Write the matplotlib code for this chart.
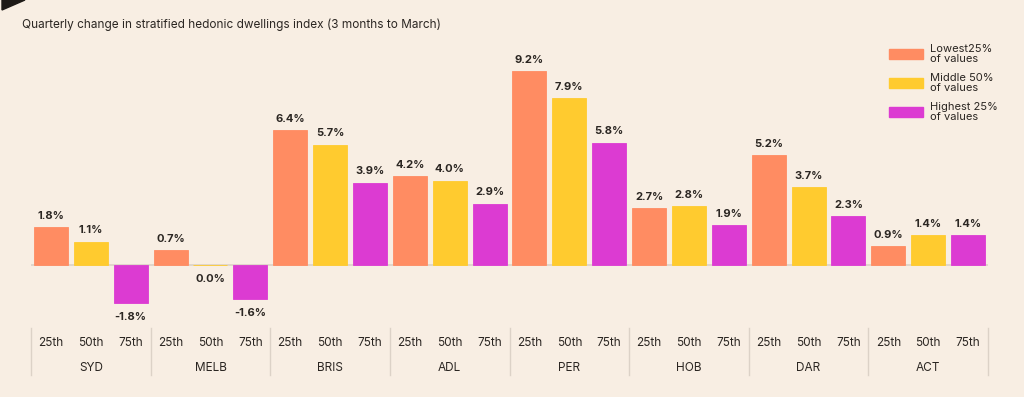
import matplotlib.pyplot as plt
from matplotlib.patches import Polygon, Patch
from matplotlib.lines import Line2D
import numpy as np

cities = ['SYD', 'MELB', 'BRIS', 'ADL', 'PER', 'HOB', 'DAR', 'ACT']
pct_labels = ['25th', '50th', '75th']
lowest = [1.8, 0.7, 6.4, 4.2, 9.2, 2.7, 5.2, 0.9]
middle = [1.1, 0.0, 5.7, 4.0, 7.9, 2.8, 3.7, 1.4]
highest = [-1.8, -1.6, 3.9, 2.9, 5.8, 1.9, 2.3, 1.4]
series_names = ['Lowest25%\nof values', 'Middle 50%\nof values', 'Highest 25%\nof values']

bg = '#F8EEE3'
colors = ['#FF8C62', '#FFCB2F', '#DC3BD2']
txt = '#2B2622'
grid = '#DCD2C7'

plt.rcParams['font.family'] = ['Inter', 'DejaVu Sans']

fig = plt.figure(figsize=(10.24, 3.97), dpi=100, facecolor=bg)
ax = fig.add_axes([31/1024, 1-310/397, (988-31)/1024, 260/397])
ax.set_facecolor(bg)

# top-left corner mark
fig.patches.append(Polygon([[2/1024, 1], [25/1024, 1], [2/1024, 1-10/397]],
                           closed=True, transform=fig.transFigure, color='#1E1A17'))

fig.text(22/1024, 1-25/397, 'Quarterly change in stratified hedonic dwellings index (3 months to March)',
         fontsize=8.5, color=txt, va='center', ha='left')

n = len(cities)
w = 0.85
for s, vals in enumerate([lowest, middle, highest]):
    x = np.arange(n) * 3 + s
    ax.bar(x, vals, width=w, color=colors[s], edgecolor=colors[s], linewidth=0.6, zorder=2)
    for xi, v in zip(x, vals):
        # zero and negative values get their label under the baseline
        if v <= 0:
            ax.text(xi, v - 0.45, f'{v:.1f}%', ha='center', va='top', fontsize=8,
                    fontweight='bold', color=txt)
        else:
            ax.text(xi, v + 0.3, f'{v:.1f}%', ha='center', va='bottom', fontsize=8,
                    fontweight='bold', color=txt)

ax.axhline(0, color=grid, lw=1.2, zorder=1)
ax.set_xlim(-0.5, n * 3 - 0.5)
ax.set_ylim(-45/21.1, 215/21.1)
for sp in ax.spines.values():
    sp.set_visible(False)
ax.set_xticks([])
ax.set_yticks([])

# category labels below the axes
trans = ax.get_xaxis_transform()
y_tick = -(343-310)/260
y_grp = -(368-310)/260
for g in range(n):
    for s in range(3):
        ax.text(g*3 + s, y_tick, pct_labels[s], transform=trans, ha='center', va='center',
                fontsize=8.5, color=txt)
    ax.text(g*3 + 1, y_grp, cities[g], transform=trans, ha='center', va='center',
            fontsize=8.5, color=txt)
for g in range(n + 1):
    ax.add_line(Line2D([g*3 - 0.5, g*3 - 0.5], [-(328-310)/260, -(375-310)/260],
                       transform=trans, color=grid, lw=1, clip_on=False))

handles = [Patch(facecolor=c, edgecolor=c) for c in colors]
leg = fig.legend(handles, series_names, loc='upper left',
                 bbox_to_anchor=(879/1024, 1-34/397), frameon=False,
                 fontsize=8, handlelength=3.1, handleheight=1.1,
                 labelspacing=0.85, handletextpad=0.55)
for t in leg.get_texts():
    t.set_color(txt)
    t.set_linespacing(0.95)

fig.savefig('out.png', dpi=100, facecolor=bg)
